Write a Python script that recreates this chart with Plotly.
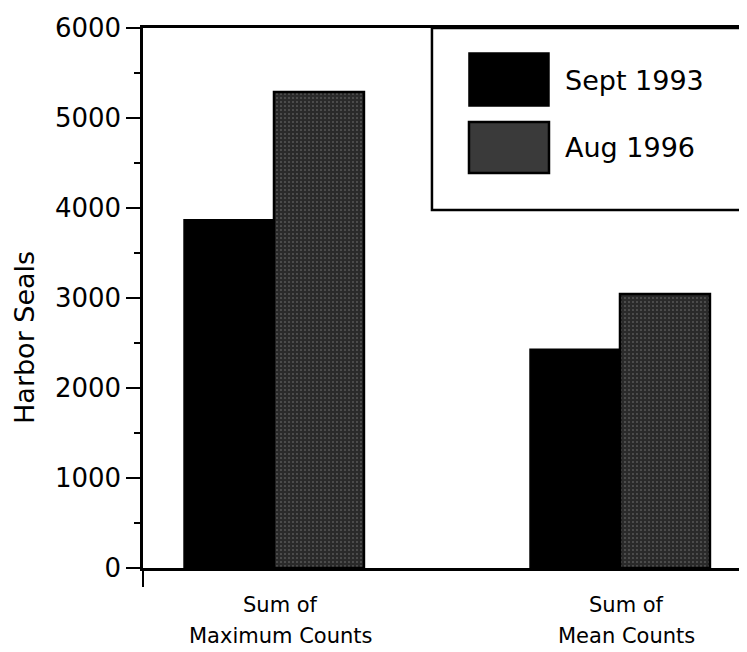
import plotly.graph_objects as go

# ---- data ----
categories = ["Sum of\nMaximum Counts", "Sum of\nMean Counts"]
series_names = ["Sept 1993", "Aug 1996"]
sept_1993 = [3870, 2430]
aug_1996 = [5290, 3045]
y_ticks = [0, 1000, 2000, 3000, 4000, 5000, 6000]
y_title = "Harbor Seals"

FONT = "DejaVu Sans"
cat_pos = list(range(len(categories)))
x_range = [-0.3786, 1.3613]

fig = go.Figure()
fig.add_trace(go.Bar(
    x=cat_pos, y=sept_1993, name=series_names[0],
    marker=dict(color="#000000", line=dict(color="#000000", width=1.5)),
    showlegend=False,
))
fig.add_trace(go.Bar(
    x=cat_pos, y=aug_1996, name=series_names[1],
    marker=dict(color="#2a2a2a", line=dict(color="#000000", width=2.5),
                pattern=dict(shape=".", bgcolor="#2a2a2a", fgcolor="#c8c8c8",
                             size=4, solidity=0.12)),
    showlegend=False,
))

# category labels (two lines each)
for xp, cat in zip(cat_pos, categories):
    l1, l2 = cat.split("\n")
    fig.add_annotation(x=xp + 0.02, y=0, xref="x", yref="paper", text=l1,
                       showarrow=False, yanchor="middle", yshift=-37,
                       font=dict(family=FONT, size=21, color="black"))
    fig.add_annotation(x=xp + 0.02, y=0, xref="x", yref="paper", text=l2,
                       showarrow=False, yanchor="middle", yshift=-68,
                       font=dict(family=FONT, size=21, color="black"))

# y-axis title
fig.add_annotation(x=-0.196, y=0.426, xref="paper", yref="paper", text=y_title,
                   textangle=-90, showarrow=False, xanchor="center", yanchor="middle",
                   font=dict(family=FONT, size=27, color="black"))

# custom legend
fig.add_shape(type="rect", xref="paper", yref="paper", x0=0.480, x1=1.02, y0=0.663, y1=1.0,
              line=dict(color="black", width=2.5), fillcolor="white", layer="above")
fig.add_shape(type="rect", xref="paper", yref="paper", x0=0.5415, x1=0.6744, y0=0.8556, y1=0.9537,
              line=dict(color="black", width=1.5), fillcolor="#000000", layer="above")
fig.add_shape(type="rect", xref="paper", yref="paper", x0=0.5415, x1=0.6744, y0=0.7315, y1=0.8259,
              line=dict(color="black", width=2.5), fillcolor="#3a3a3a", layer="above")
for name, yc in zip(series_names, [0.9037, 0.7796]):
    fig.add_annotation(x=0.6977, y=yc, xref="paper", yref="paper", text=name,
                       showarrow=False, xanchor="left", yanchor="middle",
                       font=dict(family=FONT, size=27, color="black"))

# right border (faint)
fig.add_shape(type="line", xref="paper", yref="paper", x0=0.9985, x1=0.9985, y0=0, y1=1,
              line=dict(color="#555555", width=1))

# page body has an 8px margin, so the figure is sized/offset to compensate
fig.update_layout(
    width=739, height=644,
    margin=dict(l=135, r=2, t=20, b=84),
    plot_bgcolor="white", paper_bgcolor="white",
    barmode="group", bargap=0.48, bargroupgap=0,
    font=dict(family=FONT, color="black"),
    xaxis=dict(range=x_range, showgrid=False, zeroline=False,
               showline=True, linecolor="black", linewidth=2.5, mirror=True,
               tickmode="array", tickvals=x_range, ticktext=["", ""],
               ticks="outside", ticklen=16, tickwidth=2, tickcolor="black"),
    yaxis=dict(range=[0, 6000], showgrid=False, zeroline=False,
               showline=True, linecolor="black", linewidth=2.5,
               tickmode="array", tickvals=y_ticks,
               ticks="outside", ticklen=14, tickwidth=2, tickcolor="black",
               tickfont=dict(family=FONT, size=26, color="black"),
               minor=dict(tickmode="array", tickvals=[500, 1500, 2500, 3500, 4500, 5500],
                          ticks="outside", ticklen=6, tickwidth=1.5, tickcolor="black")),
)

fig.write_html("out.html")
